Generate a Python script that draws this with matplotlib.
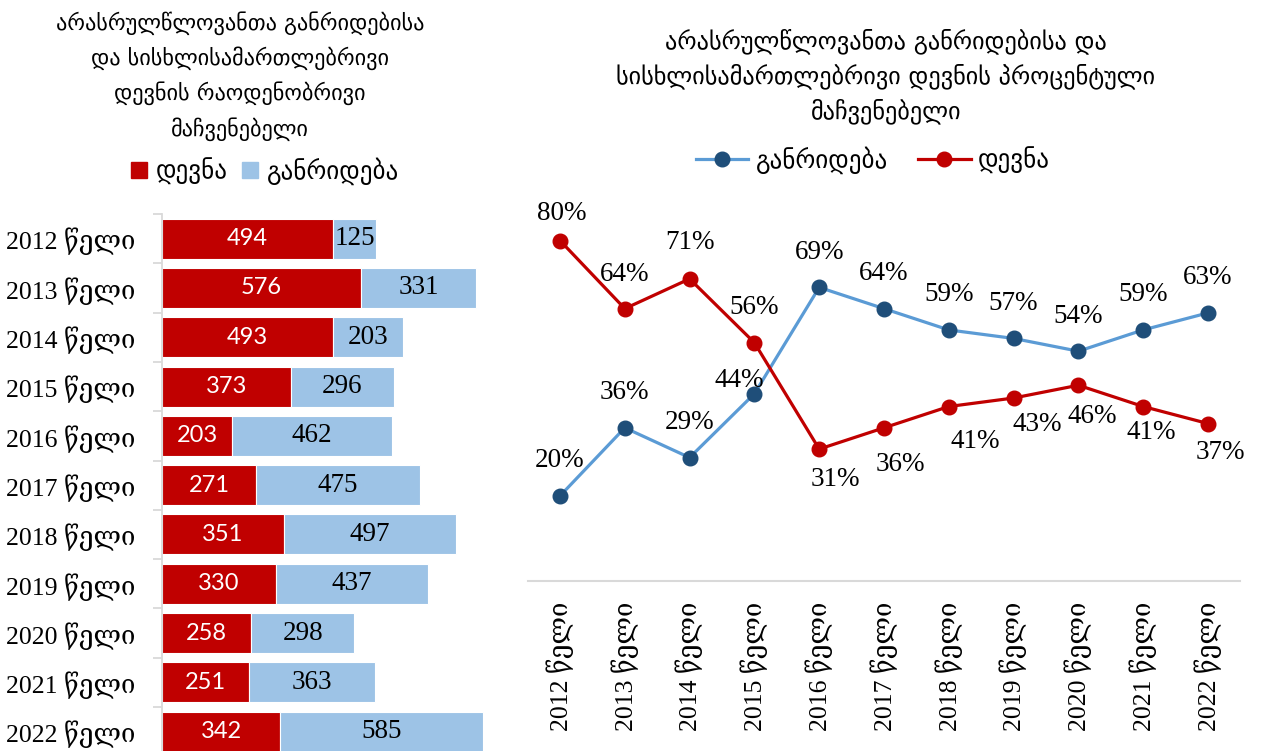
import matplotlib
matplotlib.use("Agg")
import matplotlib.pyplot as plt
from matplotlib.ticker import FixedLocator
from matplotlib.lines import Line2D
from matplotlib.patches import Patch

# ---------------- data ----------------
years = ["2012 წელი", "2013 წელი", "2014 წელი", "2015 წელი", "2016 წელი", "2017 წელი",
         "2018 წელი", "2019 წელი", "2020 წელი", "2021 წელი", "2022 წელი"]
prosecution_counts = [494, 576, 493, 373, 203, 271, 351, 330, 258, 251, 342]   # დევნა
diversion_counts = [125, 331, 203, 296, 462, 475, 497, 437, 298, 363, 585]     # განრიდება
diversion_pct = [20, 36, 29, 44, 69, 64, 59, 57, 54, 59, 63]
prosecution_pct = [80, 64, 71, 56, 31, 36, 41, 43, 46, 41, 37]

label_prosecution = "დევნა"
label_diversion = "განრიდება"
title_left = "არასრულწლოვანთა განრიდებისა\nდა სისხლისამართლებრივი\nდევნის რაოდენობრივი\nმაჩვენებელი"
title_right = "არასრულწლოვანთა განრიდებისა და\nსისხლისამართლებრივი დევნის პროცენტული\nმაჩვენებელი"

# ---------------- style ----------------
RED = "#C00000"
LIGHTBLUE = "#9DC3E6"
LINEBLUE = "#5B9BD5"
DARKBLUE = "#1F4E79"
GRID = "#D9D9D9"
SERIF = ["Liberation Serif", "DejaVu Serif", "DejaVu Sans"]
SANS = ["DejaVu Sans"]

W, H = 1264, 751
fig = plt.figure(figsize=(W / 100, H / 100), dpi=100)

def px_rect(x0, y_top, x1, y_bot):
    return [x0 / W, 1 - y_bot / H, (x1 - x0) / W, (y_bot - y_top) / H]

# ---------------- left: stacked horizontal bars ----------------
axL = fig.add_axes(px_rect(162, 214, 162 + 346.2, 756.3))
ypos = list(range(len(years)))
axL.barh(ypos, prosecution_counts, height=0.81, color=RED, edgecolor="white", linewidth=0.8)
axL.barh(ypos, diversion_counts, left=prosecution_counts, height=0.81, color=LIGHTBLUE,
         edgecolor="white", linewidth=0.8)
axL.set_xlim(0, 1000)
axL.set_ylim(len(years) - 0.5, -0.5)
axL.set_yticks(ypos)
axL.set_yticklabels(years, family=SERIF, fontsize=18.5)
axL.yaxis.set_minor_locator(FixedLocator([i - 0.5 for i in range(len(years) + 1)]))
axL.tick_params(axis="y", which="major", length=0, pad=19)
axL.tick_params(axis="y", which="minor", length=6.5, width=1.3, color=GRID)
axL.set_xticks([])
for s in ["top", "right", "bottom"]:
    axL.spines[s].set_visible(False)
axL.spines["left"].set_color(GRID)
axL.spines["left"].set_linewidth(1.3)

for i, (r, b) in enumerate(zip(prosecution_counts, diversion_counts)):
    axL.text(r / 2, i, str(r), ha="center", va="center", color="white",
             family=["Lato", "DejaVu Sans"], fontsize=17)
    axL.text(r + b / 2, i, str(b), ha="center", va="center", color="black",
             family=SERIF, fontsize=19.5)

fig.text(240 / W, 1 - 76 / H, title_left, ha="center", va="center", family=SANS,
         fontsize=16, linespacing=1.62)

# left legend
handles_l = [Patch(facecolor=RED, edgecolor=RED), Patch(facecolor=LIGHTBLUE, edgecolor=LIGHTBLUE)]
fig.legend(handles_l, [label_prosecution, label_diversion], loc="center",
           bbox_to_anchor=(265 / W, 1 - 171 / H), ncol=2, frameon=False,
           prop={"family": SANS, "size": 18}, handlelength=0.62, handleheight=0.62,
           handletextpad=0.35, columnspacing=0.6)

# ---------------- right: percentage lines ----------------
axR = fig.add_axes(px_rect(527.6, 198, 1240.4, 581))
xs = list(range(len(years)))
axR.plot(xs, diversion_pct, color=LINEBLUE, lw=2.3, marker="o", ms=10.5,
         markerfacecolor=DARKBLUE, markeredgecolor=DARKBLUE, zorder=3)
axR.plot(xs, prosecution_pct, color=RED, lw=2.3, marker="o", ms=10.5,
         markerfacecolor=RED, markeredgecolor=RED, zorder=3)
axR.set_xlim(-0.5, len(years) - 0.5)
axR.set_ylim(0, 90)
axR.set_yticks([])
axR.set_xticks(xs)
axR.set_xticklabels(years, rotation=90, family=SERIF, fontsize=18.5, va="top", ha="center")
axR.tick_params(axis="x", length=0, pad=15)
for s in ["top", "right", "left"]:
    axR.spines[s].set_visible(False)
axR.spines["bottom"].set_color(GRID)
axR.spines["bottom"].set_linewidth(1.5)

# label offsets in pixels (dx right, dy down)
off_blue = [(0, -35)] * 3 + [(-15, -13)] + [(0, -35)] * 7
off_red = [(2, -27), (0, -34), (0, -36), (0, -35), (16, 30), (16, 37), (26, 35),
           (24, 26), (14, 31), (8, 26), (12, 29)]
for i, v in enumerate(diversion_pct):
    dx, dy = off_blue[i]
    axR.annotate(f"{v}%", (i, v), xytext=(dx, -dy), textcoords="offset pixels",
                 ha="center", va="center", family=SERIF, fontsize=19.5, annotation_clip=False)
for i, v in enumerate(prosecution_pct):
    dx, dy = off_red[i]
    axR.annotate(f"{v}%", (i, v), xytext=(dx, -dy), textcoords="offset pixels",
                 ha="center", va="center", family=SERIF, fontsize=19.5, annotation_clip=False)

fig.text(886 / W, 1 - 76 / H, title_right, ha="center", va="center", family=SANS,
         fontsize=17.5, linespacing=1.45)

handles_r = [Line2D([], [], color=LINEBLUE, lw=2.3, marker="o", ms=10.5,
                    markerfacecolor=DARKBLUE, markeredgecolor=DARKBLUE),
             Line2D([], [], color=RED, lw=2.3, marker="o", ms=10.5,
                    markerfacecolor=RED, markeredgecolor=RED)]
fig.legend(handles_r, [label_diversion, label_prosecution], loc="center",
           bbox_to_anchor=(873 / W, 1 - 160 / H), ncol=2, frameon=False,
           prop={"family": SANS, "size": 18}, handlelength=2.1,
           handletextpad=0.3, columnspacing=1.2)

fig.savefig("out.png", dpi=100)
